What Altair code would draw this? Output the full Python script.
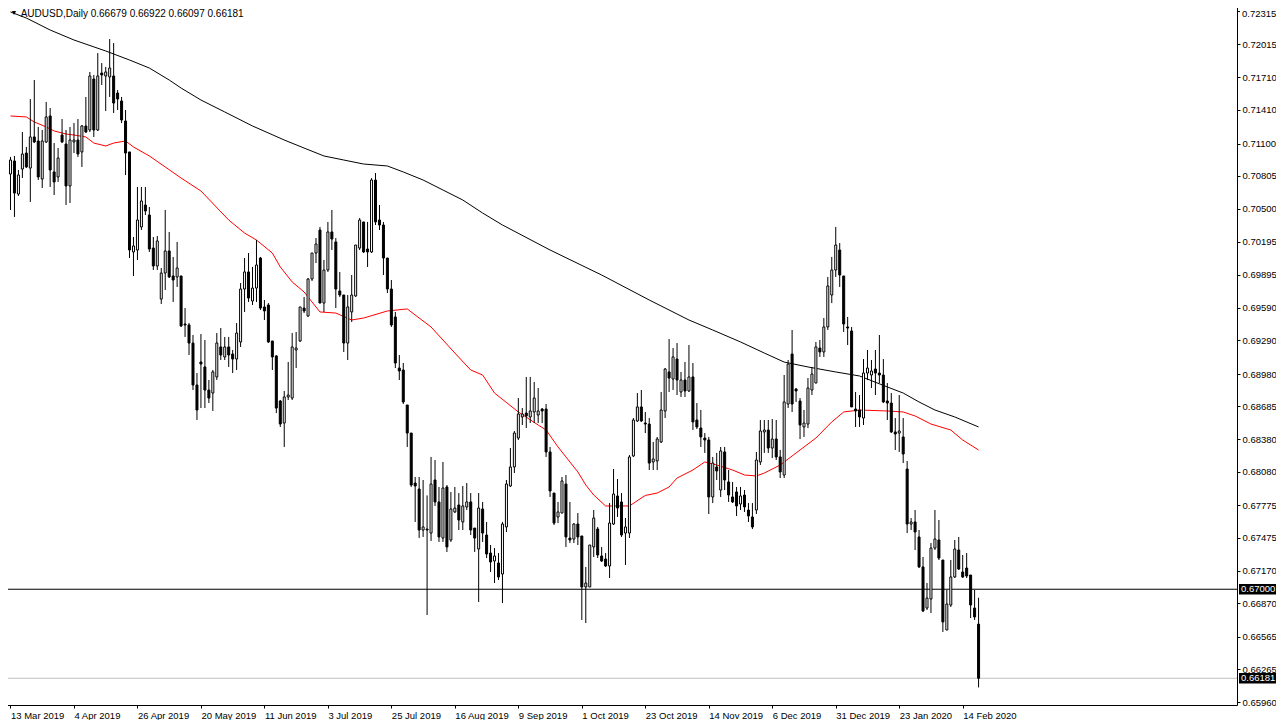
import altair as alt
import pandas as pd

# ---- candle data (AUDUSD daily, 13 Mar 2019 .. 20 Feb 2020) ----
opens = [
0.70820,0.70940,0.70636,0.70866,0.71013,0.70875,0.71161,0.71124,0.70774,0.71115,
0.71354,0.70839,0.70793,0.71179,0.71096,0.70710,0.71115,0.71133,0.71023,0.71262,
0.71225,0.71694,0.71225,0.71749,0.71722,0.71713,0.71722,0.71565,0.71492,0.71308,
0.71023,0.70103,0.70121,0.70333,0.70535,0.70443,0.70139,0.69974,0.69670,0.69909,
0.70112,0.69882,0.69873,0.69882,0.69440,0.69431,0.69265,0.68879,0.69091,0.69045,
0.68833,0.68805,0.68953,0.69229,0.69137,0.69229,0.69164,0.69118,0.69275,0.69762,
0.69919,0.69652,0.69771,0.70047,0.69597,0.69615,0.69284,0.69146,0.68732,0.68529,
0.68769,0.68759,0.69201,0.69284,0.69587,0.69514,0.69854,0.70093,0.70305,0.69633,
0.69937,0.70287,0.70195,0.69744,0.69707,0.69265,0.69551,0.69698,0.70139,0.70379,
0.70130,0.70103,0.70765,0.70397,0.70351,0.70047,0.69762,0.69505,0.69035,0.69017,
0.68695,0.68437,0.67977,0.67922,0.67545,0.67554,0.67517,0.68005,0.67803,0.67471,
0.67941,0.67453,0.67711,0.67775,0.67619,0.67757,0.67803,0.67563,0.67370,0.67738,
0.67499,0.67333,0.67260,0.67241,0.67140,0.67573,0.67950,0.68125,0.68391,0.68585,
0.68621,0.68585,0.68631,0.68603,0.68658,0.68658,0.68263,0.67885,0.67665,0.67701,
0.67968,0.67471,0.67462,0.67600,0.67490,0.67021,0.67021,0.67389,0.67554,0.67306,
0.67278,0.67214,0.67600,0.67858,0.67803,0.67517,0.67517,0.68226,0.68548,0.68677,
0.68529,0.68520,0.68171,0.68180,0.68355,0.68640,0.68999,0.68934,0.69118,0.68815,
0.68925,0.68824,0.68953,0.68557,0.68483,0.68391,0.68373,0.67849,0.68125,0.67913,
0.68263,0.67987,0.67849,0.67895,0.67784,0.67867,0.67729,0.67665,0.67729,0.68171,
0.68447,0.68465,0.68299,0.68382,0.68217,0.68051,0.68704,0.69164,0.68842,0.68732,
0.68493,0.68520,0.68833,0.68897,0.69219,0.69183,0.69413,0.69707,0.69937,0.70121,
0.69882,0.69413,0.69376,0.68658,0.68649,0.68575,0.68989,0.68971,0.69026,0.68989,
0.68971,0.68732,0.68713,0.68447,0.68437,0.68401,0.68106,0.67600,0.67619,0.67481,
0.67205,0.66827,0.66910,0.67379,0.67453,0.67269,0.66625,0.66855,0.67113,0.67361,
0.67159,0.67195,0.67131,0.66827,0.66679]

highs = [
0.70977,0.70986,0.70857,0.71207,0.71069,0.71510,0.71685,0.71253,0.71225,0.71483,
0.71427,0.71105,0.71059,0.71326,0.71225,0.71253,0.71289,0.71326,0.71271,0.71529,
0.71759,0.71731,0.71933,0.71841,0.71805,0.72062,0.72025,0.71593,0.71529,0.71409,
0.71023,0.70241,0.70701,0.70701,0.70701,0.70517,0.70241,0.70250,0.69955,0.70489,
0.70287,0.70057,0.70195,0.69882,0.69587,0.69449,0.69339,0.68989,0.69348,0.69293,
0.68925,0.69017,0.69357,0.69403,0.69321,0.69321,0.69201,0.69449,0.69817,0.70047,
0.70093,0.69965,0.70213,0.70057,0.69661,0.69633,0.69284,0.69155,0.68741,0.68824,
0.69091,0.69357,0.69367,0.69597,0.69689,0.69863,0.70093,0.70231,0.70333,0.70029,
0.70379,0.70489,0.70231,0.69919,0.69707,0.69707,0.69891,0.70167,0.70415,0.70379,
0.70379,0.70783,0.70829,0.70535,0.70379,0.70047,0.69845,0.69551,0.69155,0.69081,
0.68695,0.68437,0.68033,0.68033,0.68005,0.67863,0.68217,0.68189,0.67941,0.68171,
0.67959,0.67895,0.67941,0.67885,0.67950,0.67977,0.67885,0.67563,0.67885,0.67803,
0.67619,0.67407,0.67379,0.67333,0.67619,0.68005,0.68299,0.68456,0.68759,0.68667,
0.68953,0.68953,0.68907,0.68851,0.68667,0.68704,0.68309,0.67885,0.67803,0.68033,
0.68051,0.67803,0.67609,0.67701,0.67490,0.67205,0.67407,0.67729,0.67573,0.67389,
0.67333,0.67793,0.68106,0.68014,0.67885,0.67655,0.68235,0.68575,0.68805,0.68833,
0.68631,0.68575,0.68355,0.68401,0.68815,0.69035,0.69302,0.69219,0.69265,0.68999,
0.69091,0.69247,0.69081,0.68713,0.68649,0.68437,0.68401,0.68217,0.68254,0.68309,
0.68309,0.68097,0.67987,0.67941,0.67941,0.67913,0.67793,0.67793,0.68263,0.68557,
0.68557,0.68557,0.68566,0.68557,0.68281,0.68971,0.69109,0.69385,0.68851,0.68759,
0.68649,0.68943,0.69045,0.69275,0.69293,0.69495,0.69873,0.70057,0.70333,0.70185,
0.69882,0.69505,0.69413,0.68815,0.68787,0.69118,0.69201,0.69109,0.69201,0.69339,
0.69118,0.68897,0.68805,0.68575,0.68787,0.68575,0.68180,0.67655,0.67729,0.67545,
0.67297,0.67057,0.67425,0.67729,0.67637,0.67269,0.66993,0.67269,0.67453,0.67481,
0.67315,0.67333,0.67131,0.66993,0.66922]

lows = [
0.70489,0.70425,0.70618,0.70783,0.70875,0.70563,0.71105,0.70765,0.70691,0.71105,
0.70701,0.70627,0.70747,0.71105,0.70535,0.70553,0.71013,0.70977,0.70885,0.71197,
0.71207,0.71161,0.71216,0.71639,0.71400,0.71529,0.71381,0.71409,0.71289,0.70811,
0.70047,0.69882,0.70029,0.70305,0.70443,0.70103,0.69937,0.69937,0.69624,0.69753,
0.69863,0.69643,0.69781,0.69413,0.69321,0.69155,0.68833,0.68557,0.68667,0.68667,
0.68713,0.68640,0.68925,0.69109,0.69109,0.69045,0.68989,0.69017,0.69229,0.69551,
0.69643,0.69615,0.69643,0.69569,0.69477,0.69265,0.69017,0.68621,0.68493,0.68309,
0.68741,0.68741,0.69035,0.69275,0.69541,0.69505,0.69836,0.70001,0.69633,0.69551,
0.69919,0.70121,0.69587,0.69689,0.69183,0.69109,0.69459,0.69689,0.70121,0.70093,
0.69965,0.70093,0.70351,0.70305,0.69891,0.69725,0.69413,0.69035,0.68925,0.68704,
0.68309,0.67941,0.67619,0.67471,0.67481,0.66763,0.67444,0.67766,0.67435,0.67435,
0.67343,0.67435,0.67701,0.67545,0.67545,0.67729,0.67499,0.67343,0.66883,0.67435,
0.67287,0.67159,0.67057,0.67085,0.66873,0.67527,0.67941,0.68069,0.68373,0.68511,
0.68483,0.68529,0.68529,0.68529,0.68529,0.68217,0.67849,0.67591,0.67609,0.67701,
0.67389,0.67425,0.67425,0.67407,0.66717,0.66689,0.67021,0.67297,0.67287,0.67251,
0.67205,0.67103,0.67591,0.67665,0.67481,0.67223,0.67471,0.68217,0.68539,0.68539,
0.68437,0.68097,0.68097,0.68097,0.68345,0.68575,0.68815,0.68833,0.68787,0.68769,
0.68769,0.68815,0.68465,0.68474,0.68309,0.68254,0.67692,0.67793,0.68005,0.67849,
0.67913,0.67803,0.67793,0.67674,0.67729,0.67711,0.67619,0.67554,0.67692,0.68143,
0.68254,0.68254,0.68207,0.68189,0.68023,0.68023,0.68667,0.68631,0.68723,0.68382,
0.68401,0.68483,0.68787,0.68897,0.69137,0.69137,0.69385,0.69633,0.69873,0.69781,
0.69367,0.69247,0.68677,0.68493,0.68493,0.68511,0.68925,0.68851,0.68787,0.68897,
0.68713,0.68557,0.68437,0.68281,0.68263,0.68161,0.67517,0.67545,0.67361,0.67196,
0.66791,0.66809,0.66781,0.67361,0.67269,0.66607,0.66625,0.66837,0.67103,0.67177,
0.67103,0.67103,0.66735,0.66717,0.66097]

closes = [
0.70949,0.70645,0.70811,0.71004,0.70885,0.71161,0.71115,0.70793,0.71124,0.71345,
0.70857,0.70747,0.70967,0.71115,0.70710,0.71133,0.71133,0.71004,0.71262,0.71207,
0.71722,0.71225,0.71722,0.71731,0.71759,0.71795,0.71473,0.71510,0.71317,0.71013,
0.70121,0.70158,0.70397,0.70572,0.70480,0.70130,0.69974,0.70204,0.69909,0.70112,
0.69873,0.69845,0.69955,0.69422,0.69431,0.69265,0.68879,0.68649,0.69072,0.68833,
0.68759,0.68999,0.69265,0.69155,0.69229,0.69155,0.69118,0.69357,0.69762,0.69919,
0.69679,0.69771,0.69983,0.69587,0.69560,0.69275,0.69137,0.68667,0.68520,0.68769,
0.68787,0.69229,0.69219,0.69597,0.69560,0.69854,0.70093,0.70176,0.69633,0.69937,
0.70287,0.70222,0.69762,0.69707,0.69265,0.69597,0.69707,0.70167,0.70397,0.70103,
0.70103,0.70765,0.70379,0.70351,0.70047,0.69762,0.69431,0.69081,0.69008,0.68723,
0.68437,0.67959,0.67950,0.67545,0.67573,0.67545,0.67968,0.67803,0.67481,0.67931,
0.67389,0.67738,0.67747,0.67637,0.67766,0.67803,0.67545,0.67471,0.67747,0.67517,
0.67324,0.67251,0.67306,0.67113,0.67600,0.67968,0.68125,0.68437,0.68612,0.68612,
0.68594,0.68640,0.68759,0.68640,0.68640,0.68263,0.67904,0.67609,0.67711,0.67996,
0.67481,0.67453,0.67600,0.67481,0.67021,0.67057,0.67407,0.67655,0.67315,0.67260,
0.67214,0.67609,0.67876,0.67747,0.67499,0.67573,0.68217,0.68557,0.68677,0.68548,
0.68520,0.68161,0.68198,0.68382,0.68649,0.69026,0.68943,0.69137,0.68925,0.68925,
0.68824,0.68953,0.68539,0.68493,0.68401,0.68373,0.67849,0.68161,0.68088,0.68272,
0.68005,0.67867,0.67803,0.67766,0.67858,0.67757,0.67674,0.67573,0.68189,0.68456,
0.68465,0.68299,0.68382,0.68217,0.68079,0.68723,0.69072,0.68704,0.68824,0.68511,
0.68529,0.68851,0.68980,0.69229,0.69183,0.69413,0.69790,0.69937,0.70167,0.69891,
0.69440,0.69403,0.68677,0.68640,0.68585,0.68989,0.69035,0.69008,0.68989,0.68971,
0.68723,0.68713,0.68447,0.68428,0.68456,0.68244,0.67600,0.67619,0.67527,0.67205,
0.66800,0.66919,0.67379,0.67462,0.67287,0.66699,0.66864,0.67113,0.67370,0.67186,
0.67113,0.67122,0.66855,0.66745,0.66181]

# ---- moving averages (bar index, price) ----
ma_black_idx = [0,4,10,16,24,30,35,40,43,48,54,61,69,74,79,84,89,95,99,104,109,114,
                119,124,136,149,161,171,177,184,190,195,201,208,214,221,225,229,233,238,244]
ma_black_val = [0.72311,0.72255,0.72145,0.72053,0.71952,0.71869,0.71795,0.71685,0.71611,
                0.71501,0.71391,0.71262,0.71133,0.71059,0.70986,0.70949,0.70912,0.70894,
                0.70839,0.70765,0.70673,0.70581,0.70461,0.70351,0.70121,0.69891,0.69661,
                0.69477,0.69385,0.69275,0.69173,0.69090,0.69045,0.68999,0.68962,0.68861,
                0.68805,0.68723,0.68649,0.68585,0.68493]

ma_red_idx = [0,4,6,9,11,14,16,19,21,24,26,29,31,35,39,43,48,55,59,62,66,68,71,74,78,
              82,86,89,95,100,102,106,109,112,116,119,122,128,133,135,138,140,143,145,
              147,150,156,160,163,166,168,172,175,178,182,185,188,190,194,199,203,207,
              210,214,221,225,228,232,237,240,244]
ma_red_val = [0.71354,0.71345,0.71299,0.71253,0.71216,0.71188,0.71179,0.71161,0.71105,
              0.71078,0.71105,0.71124,0.71069,0.70986,0.70885,0.70783,0.70664,0.70397,
              0.70277,0.70213,0.70093,0.69965,0.69827,0.69735,0.69551,0.69541,0.69477,
              0.69495,0.69560,0.69579,0.69523,0.69413,0.69293,0.69173,0.69017,0.68971,
              0.68805,0.68631,0.68511,0.68465,0.68309,0.68217,0.68079,0.67959,0.67867,
              0.67766,0.67766,0.67863,0.67885,0.67941,0.68023,0.68097,0.68171,0.68143,
              0.68097,0.68051,0.68042,0.68069,0.68143,0.68281,0.68391,0.68539,0.68631,
              0.68649,0.68640,0.68631,0.68594,0.68520,0.68465,0.68373,0.68281]

# ---- axis labels ----
date_labels = ["13 Mar 2019", "4 Apr 2019", "26 Apr 2019", "20 May 2019", "11 Jun 2019",
               "3 Jul 2019", "25 Jul 2019", "16 Aug 2019", "9 Sep 2019", "1 Oct 2019",
               "23 Oct 2019", "14 Nov 2019", "6 Dec 2019", "31 Dec 2019", "23 Jan 2020",
               "14 Feb 2020"]
date_positions = [16 * k for k in range(len(date_labels))]
price_ticks = [0.72015, 0.71710, 0.71410, 0.71100, 0.70805, 0.70500, 0.70195,
               0.69895, 0.69590, 0.69290, 0.68980, 0.68685, 0.68380, 0.68080, 0.67775,
               0.67475, 0.67170, 0.66870, 0.66565, 0.66265, 0.65960]
top_tick = [0.72315]
top_tick_text = ["0.72315"]

level_price = [0.67000]
bid_price = [0.66181]
box_prices = [0.67000, 0.66181]
box_texts = ["0.67000", "0.66181"]
header = "AUDUSD,Daily  0.66679 0.66922 0.66097 0.66181"

W, H = 1233, 702
FONT = "Liberation Sans"

candles = pd.DataFrame({"i": list(range(len(opens))), "o": opens, "h": highs,
                        "l": lows, "c": closes})
black_df = pd.DataFrame({"i": ma_black_idx, "v": ma_black_val})
red_df = pd.DataFrame({"i": ma_red_idx, "v": ma_red_val})

xscale = alt.Scale(domain=[-0.375, 307.875], nice=False, zero=False)
yscale = alt.Scale(domain=[0.65935, 0.723934], nice=False, zero=False)

label_arr = "[" + ",".join("'" + s + "'" for s in date_labels) + "]"
xaxis = alt.Axis(values=date_positions, labelExpr=label_arr + "[round(datum.value/16)]",
                 title=None, grid=False, domain=False, tickSize=3, tickColor="black",
                 labelAlign="left", labelBaseline="top", labelPadding=2,
                 labelOverlap=False, labelFlush=False, labelFont=FONT,
                 labelFontSize=9.5, labelColor="black", orient="bottom")
yaxis = alt.Axis(values=price_ticks, format=".5f", title=None, grid=False, domain=False,
                 tickSize=3, tickColor="black", labelAlign="left", labelPadding=2,
                 labelOverlap=False, labelFont=FONT, labelFontSize=9.5,
                 labelColor="black", orient="right", labelBaseline="middle")


def xq(field):
    return alt.X(field + ":Q", scale=xscale, axis=xaxis)


def yq(field):
    return alt.Y(field + ":Q", scale=yscale, axis=yaxis)


wicks = alt.Chart(candles).mark_rule(color="black", strokeWidth=1).encode(
    x=xq("i"), y=yq("l"), y2="h:Q")

bull = alt.Chart(candles).transform_filter("datum.c >= datum.o").mark_bar(
    size=2, fill="white", stroke="black", strokeWidth=1).encode(
    x=xq("i"), y=yq("o"), y2="c:Q")

bear = alt.Chart(candles).transform_filter("datum.c < datum.o").mark_bar(
    size=2, fill="black", stroke="black", strokeWidth=1).encode(
    x=xq("i"), y=yq("o"), y2="c:Q")

ma_black = alt.Chart(black_df).mark_line(color="black", strokeWidth=1).encode(
    x=xq("i"), y=yq("v"))
ma_red = alt.Chart(red_df).mark_line(color="#ff0000", strokeWidth=1).encode(
    x=xq("i"), y=yq("v"))

level = alt.Chart(pd.DataFrame({"p": level_price})).mark_rule(
    color="black", strokeWidth=1).encode(y=yq("p"), x=alt.value(0), x2=alt.value(W))
bid = alt.Chart(pd.DataFrame({"p": bid_price})).mark_rule(
    color="#c0c0c0", strokeWidth=1).encode(y=yq("p"), x=alt.value(0), x2=alt.value(W))

# top price label drawn separately so it is not cut by the upper edge
top_df = pd.DataFrame({"p": top_tick, "t": top_tick_text})
top_tickmark = alt.Chart(top_df).mark_rule(color="black", strokeWidth=1).encode(
    y=yq("p"), x=alt.value(W), x2=alt.value(W + 3))
top_label = alt.Chart(top_df).mark_text(
    align="left", baseline="middle", font=FONT, fontSize=9.5, color="black").encode(
    x=alt.value(W + 5), y=alt.value(10.5), text="t:N")

box_df = pd.DataFrame({"p": box_prices, "t": box_texts})
boxes = alt.Chart(box_df).transform_calculate(
    lo="datum.p - 0.00048", hi="datum.p + 0.00048").mark_rect(color="black").encode(
    y=yq("lo"), y2="hi:Q", x=alt.value(W + 2), x2=alt.value(W + 39))
box_text = alt.Chart(box_df).mark_text(
    color="white", align="left", baseline="middle", font=FONT, fontSize=9.5).encode(
    y=yq("p"), x=alt.value(W + 4), text="t:N")

head = alt.Chart(pd.DataFrame({"t": [header]})).mark_text(
    align="left", baseline="middle", font=FONT, fontSize=10, color="black").encode(
    x=alt.value(16.7), y=alt.value(10.5), text="t:N")
icon = alt.Chart(pd.DataFrame({"t": ["\u25bc"]})).mark_text(
    align="center", baseline="middle", fontSize=7, color="black").encode(
    x=alt.value(10), y=alt.value(10), text="t:N")
shift_mark = alt.Chart(pd.DataFrame({"t": [1]})).mark_point(
    shape="triangle-down", filled=True, size=45, color="#b4b4b4", opacity=1,
    clip=True).encode(x=alt.value(986), y=alt.value(1))

chart = alt.layer(
    level, bid, ma_black, ma_red, wicks, bull, bear, top_tickmark, top_label,
    boxes, box_text, head, icon, shift_mark
).properties(
    width=W, height=H,
    autosize=alt.AutoSizeParams(type="none"),
    padding={"left": -4, "top": -5, "right": 39, "bottom": 15},
    background="white",
).configure_view(stroke="black", strokeWidth=1)

chart.save("out.html", embed_options={"renderer": "svg", "actions": False})
